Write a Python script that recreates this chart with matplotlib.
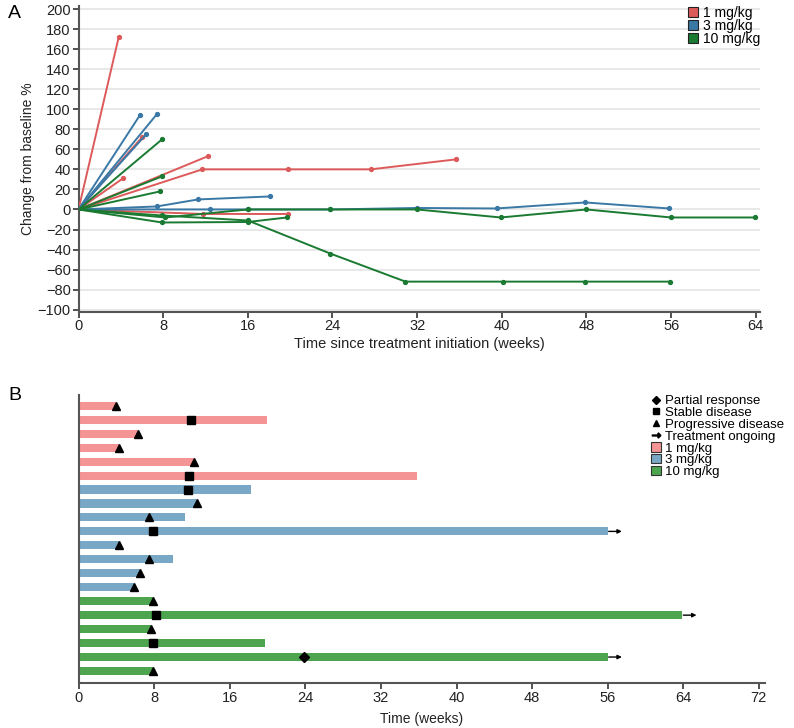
import matplotlib
matplotlib.use("Agg")
import matplotlib.pyplot as plt
from matplotlib.lines import Line2D
from matplotlib.patches import Patch

plt.rcParams['font.family'] = ['Liberation Sans', 'DejaVu Sans']

# ---------------- Panel A data ----------------
doses = ["1 mg/kg", "3 mg/kg", "10 mg/kg"]
line_colors = ["#dd5a5a", "#3a78a6", "#1a7a32"]
bar_colors = ["#f49494", "#78a8c5", "#4da64f"]

a_dose = [0, 0, 0, 0, 0, 0,
          1, 1, 1, 1, 1,
          2, 2, 2, 2, 2, 2]
a_weeks = [
    [0, 3.8],
    [0, 6.0],
    [0, 4.2],
    [0, 12.2],
    [0, 11.7, 19.8, 27.6, 35.7],
    [0, 11.8, 19.8],
    [0, 5.8],
    [0, 7.4],
    [0, 6.4],
    [0, 7.4, 11.3, 18.1],
    [0, 12.4, 16.0, 23.8, 32.0, 39.5, 47.9, 55.8],
    [0, 7.9],
    [0, 7.9],
    [0, 7.7],
    [0, 8.2, 16.0, 23.8, 32.0, 39.9, 48.0, 56.0, 63.9],
    [0, 7.9, 16.0, 19.7],
    [0, 7.9, 16.0, 23.8, 30.9, 40.1, 47.9, 55.9],
]
a_values = [
    [0, 172],
    [0, 72],
    [0, 31],
    [0, 53],
    [0, 40, 40, 40, 50],
    [0, -4.5, -4.5],
    [0, 94],
    [0, 95],
    [0, 75],
    [0, 3, 10, 13],
    [0, 0, 0, 0, 1.5, 1, 7, 1],
    [0, 70],
    [0, 33],
    [0, 18],
    [0, -8, 0, 0, 0, -8, 0, -8, -8],
    [0, -13, -12.5, -8],
    [0, -6, -11, -44, -72, -72, -72, -72],
]
a_xticks = [0, 8, 16, 24, 32, 40, 48, 56, 64]
a_yticks = [-100, -80, -60, -40, -20, 0, 20, 40, 60, 80, 100, 120, 140, 160, 180, 200]

# ---------------- Panel B data ----------------
b_dose = [0, 0, 0, 0, 0, 0, 1, 1, 1, 1, 1, 1, 1, 1, 2, 2, 2, 2, 2, 2]
b_end = [4.0, 19.9, 6.3, 4.3, 12.2, 35.8,
         18.2, 12.5, 11.3, 56.0, 4.3, 10.0, 6.5, 5.9,
         7.9, 63.9, 7.7, 19.7, 56.0, 7.9]
b_resp_week = [4.0, 11.9, 6.3, 4.3, 12.2, 11.7,
               11.6, 12.5, 7.4, 7.9, 4.3, 7.4, 6.5, 5.9,
               7.9, 8.2, 7.7, 7.9, 23.9, 7.9]
b_resp = ["PD", "SD", "PD", "PD", "PD", "SD",
          "SD", "PD", "PD", "SD", "PD", "PD", "PD", "PD",
          "PD", "SD", "PD", "SD", "PR", "PD"]
b_ongoing = [False, False, False, False, False, False,
             False, False, False, True, False, False, False, False,
             False, True, False, False, True, False]
b_xticks = [0, 8, 16, 24, 32, 40, 48, 56, 64, 72]
resp_labels = {"PR": "Partial response", "SD": "Stable disease",
               "PD": "Progressive disease"}
resp_markers = {"PR": "D", "SD": "s", "PD": "^"}
resp_sizes = {"PR": 5, "SD": 5.5, "PD": 6}

W, H = 794, 728
fig = plt.figure(figsize=(W / 100, H / 100), dpi=100)

spine_col = "#555555"
fs = 10

# ---------------- Panel A ----------------
axA = fig.add_axes([78.5 / W, 1 - 311.5 / H, (760 - 78.5) / W, (311.5 - 6) / H])
for w, v, d in zip(a_weeks, a_values, a_dose):
    axA.plot(w, v, color=line_colors[d], lw=1.4, marker='o', ms=2.8,
             markevery=list(range(1, len(w))), solid_capstyle='round', zorder=3)
axA.set_xlim(0, 64.4)
axA.set_ylim(-101.8, 203)
axA.set_xticks(a_xticks)
axA.set_yticks(a_yticks)
axA.set_yticklabels([str(t).replace('-', '\u2212') for t in a_yticks])
axA.grid(axis='y', color='#e4e4e4', lw=1.2, zorder=0)
axA.set_axisbelow(True)
for s in ['top', 'right']:
    axA.spines[s].set_visible(False)
for s in ['left', 'bottom']:
    axA.spines[s].set_color(spine_col)
    axA.spines[s].set_linewidth(1.5)
axA.tick_params(axis='both', colors='#333333', labelcolor='#222222', labelsize=10.5,
                length=4, width=1.2, pad=1.5)
axA.set_xlabel("Time since treatment initiation (weeks)", fontsize=10.5, labelpad=3, color='#222222')
axA.set_ylabel("Change from baseline %", fontsize=fs, labelpad=2, color='#222222')
legA = [Patch(facecolor=line_colors[i], edgecolor='#222222', lw=0.8, label=doses[i]) for i in range(3)]
axA.legend(handles=legA, loc='upper left', bbox_to_anchor=(688 / W, 1 - 6 / H),
           bbox_transform=fig.transFigure, frameon=False, fontsize=fs,
           handlelength=0.75, handleheight=0.75, handletextpad=0.3,
           labelspacing=-0.08, borderpad=0, borderaxespad=0)
fig.text(8 / W, 1 - 14 / H, "A", fontsize=14, va='center', ha='left')

# ---------------- Panel B ----------------
axB = fig.add_axes([78.7 / W, 1 - 683 / H, (765 - 78.7) / W, (683 - 395) / H])
n = len(b_end)
rows = list(range(n))
axB.barh(rows, b_end, height=0.58, color=[bar_colors[d] for d in b_dose], zorder=2)
for i in rows:
    r = b_resp[i]
    axB.plot(b_resp_week[i], i, marker=resp_markers[r], color='black',
             ms=resp_sizes[r], ls='none', zorder=4)
    if b_ongoing[i]:
        axB.annotate('', xy=(b_end[i] + 1.5, i), xytext=(b_end[i] + 0.1, i),
                     arrowprops=dict(arrowstyle='-|>', color='black', lw=1.0,
                                     mutation_scale=6, shrinkA=0, shrinkB=0), zorder=4)
axB.set_xlim(0, 72.65)
axB.set_ylim(19.86, -0.77)
axB.set_xticks(b_xticks)
axB.set_yticks([])
for s in ['top', 'right']:
    axB.spines[s].set_visible(False)
for s in ['left', 'bottom']:
    axB.spines[s].set_color(spine_col)
    axB.spines[s].set_linewidth(1.5)
axB.tick_params(axis='x', colors='#333333', labelcolor='#222222', labelsize=10.5,
                length=4, width=1.2, pad=1.5)
axB.set_xlabel("Time (weeks)", fontsize=fs, labelpad=5, color='#222222')
legB = [Line2D([], [], marker=resp_markers[k], color='black', ls='none', ms=4.5,
               label=resp_labels[k]) for k in ["PR", "SD", "PD"]]
legB.append(Line2D([], [], marker=r'$\rightarrow$', color='black', ls='none', ms=6,
                   label="Treatment ongoing"))
legB += [Patch(facecolor=bar_colors[i], edgecolor='#333333', lw=0.8, label=doses[i]) for i in range(3)]
axB.legend(handles=legB, loc='upper left', bbox_to_anchor=(651 / W, 1 - 395 / H),
           bbox_transform=fig.transFigure, frameon=False, fontsize=9.5,
           handlelength=0.75, handleheight=0.7, handletextpad=0.3,
           labelspacing=-0.03, borderpad=0, borderaxespad=0)
fig.text(8 / W, 1 - 396 / H, "B", fontsize=14, va='center', ha='left')

fig.savefig("out.png", dpi=100)
